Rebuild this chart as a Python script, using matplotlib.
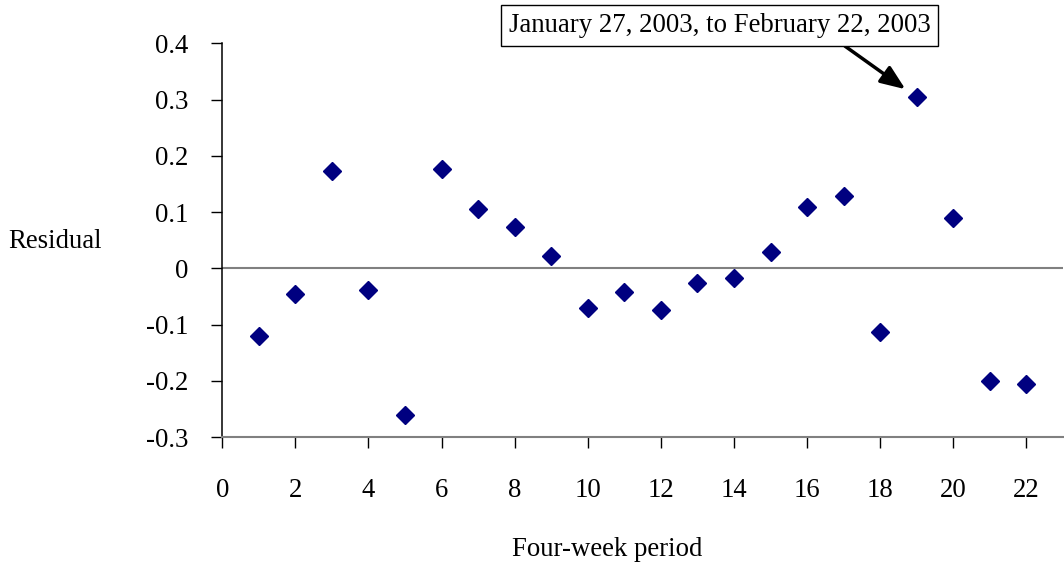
#!/usr/bin/env python3

import matplotlib
matplotlib.use("Agg")
import matplotlib.pyplot as plt

# residual by four-week period
period = list(range(1, 23))
residual = [
    -0.120, -0.045, 0.173, -0.038, -0.260, 0.177, 0.106, 0.074, 0.022, -0.070, -0.042,
    -0.074, -0.026, -0.017, 0.029, 0.109, 0.129, -0.113, 0.304, 0.090, -0.200, -0.205,
]
x_ticks = list(range(0, 23, 2))
y_ticks = [-0.3, -0.2, -0.1, 0, 0.1, 0.2, 0.3, 0.4]
y_tick_labels = ["-0.3", "-0.2", "-0.1", "0", "0.1", "0.2", "0.3", "0.4"]
note = "January 27, 2003, to February 22, 2003"
note_index = 18  # period 19

plt.rcParams["font.family"] = ["Liberation Serif", "DejaVu Serif"]
FS = 19.3

fig = plt.figure(figsize=(10.64, 5.71), dpi=100)
ax = fig.add_axes([0.2089, 0.2342, 0.7901, 0.69])

###########################################################
# Points and zero line
###########################################################

ax.axhline(0, color="#808080", lw=1.5, zorder=1)

ax.plot(
    period,
    residual,
    linestyle="none",
    marker="D",
    markersize=9,
    color="#000080",
    zorder=3,
)

###########################################################
# Axes
###########################################################

ax.set_xlim(0, 23)
ax.set_ylim(-0.3, 0.4)

ax.set_xticks(x_ticks)
ax.set_yticks(y_ticks)
ax.set_yticklabels(y_tick_labels)

ax.spines["top"].set_visible(False)
ax.spines["right"].set_visible(False)
ax.spines["left"].set_color("black")
ax.spines["left"].set_linewidth(1.1)
ax.spines["bottom"].set_color("#808080")
ax.spines["bottom"].set_linewidth(1.5)

ax.tick_params(axis="y", direction="out", length=8, width=1, pad=16.5,
               labelsize=FS, colors="black")
ax.tick_params(axis="x", direction="out", length=8, width=1, pad=21,
               labelsize=FS, colors="black")

fig.text(0.052, 0.577, "Residual", fontsize=FS, ha="center", va="center")
fig.text(0.571, 0.038, "Four-week period", fontsize=FS, ha="center", va="center")

###########################################################
# Annotation
###########################################################

ax.annotate(
    note,
    xy=(period[note_index], residual[note_index]),
    xytext=(-142, 52),
    textcoords="offset points",
    fontsize=FS,
    ha="center",
    va="center",
    bbox=dict(boxstyle="square,pad=0.3", fc="white", ec="black", lw=1),
    arrowprops=dict(
        arrowstyle="-|>,head_length=0.75,head_width=0.3",
        color="black",
        lw=2.5,
        mutation_scale=20,
        relpos=(0.765, 0.05),
        shrinkA=0,
        shrinkB=10,
    ),
    annotation_clip=False,
)

fig.savefig("out.png", dpi=100)
